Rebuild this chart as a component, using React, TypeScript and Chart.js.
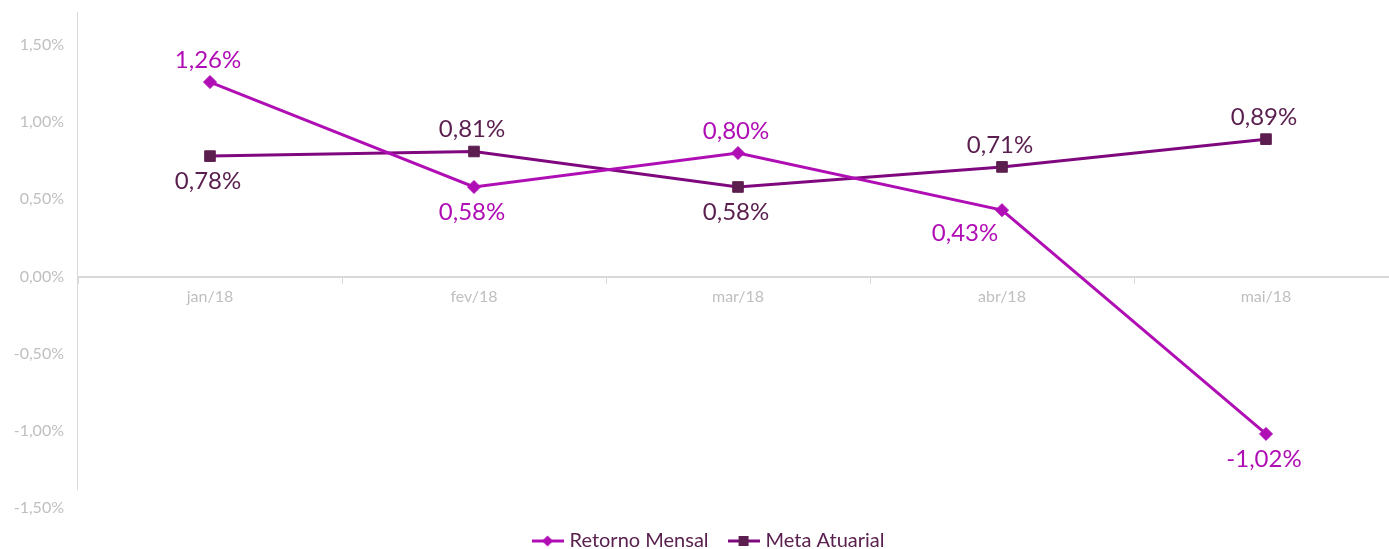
import React, { useEffect, useRef } from 'react';
import { Chart, registerables } from 'chart.js';

Chart.register(...registerables);

const categories = ['jan/18', 'fev/18', 'mar/18', 'abr/18', 'mai/18'];
const retornoMensal = [1.26, 0.58, 0.8, 0.43, -1.02];
const metaAtuarial = [0.78, 0.81, 0.58, 0.71, 0.89];
const retornoLabelPos = ['above', 'below', 'above', 'belowLeft', 'below'];
const metaLabelPos = ['below', 'above', 'below', 'above', 'above'];
const yTicks = [-1.5, -1, -0.5, 0, 0.5, 1, 1.5];

const RETORNO_COLOR = '#B00EB5';
const META_LINE = '#80087F';
const META_MARKER = '#5C1E4E';
const META_LABEL = '#5A1F4F';
const GRAY_TEXT = '#BFBFBF';
const AXIS_GRAY = '#D9D9D9';
const FONT = 'Lato, "Noto Sans", sans-serif';

const fmt = (v: number) => v.toFixed(2).replace('.', ',') + '%';

function legendIcon(lineColor: string, markerColor: string, shape: 'diamond' | 'square') {
  const c = document.createElement('canvas');
  c.width = 32;
  c.height = 14;
  const ctx = c.getContext('2d')!;
  ctx.strokeStyle = lineColor;
  ctx.lineWidth = 3;
  ctx.beginPath();
  ctx.moveTo(0, 7);
  ctx.lineTo(32, 7);
  ctx.stroke();
  ctx.fillStyle = markerColor;
  ctx.beginPath();
  if (shape === 'diamond') {
    ctx.moveTo(16, 1.5);
    ctx.lineTo(21.5, 7);
    ctx.lineTo(16, 12.5);
    ctx.lineTo(10.5, 7);
    ctx.closePath();
  } else {
    ctx.rect(11, 2, 10, 10);
  }
  ctx.fill();
  return c;
}

const yAxisLinePlugin = {
  id: 'yAxisLine',
  beforeDatasetsDraw(chart: any) {
    const { ctx, chartArea } = chart;
    ctx.save();
    ctx.strokeStyle = AXIS_GRAY;
    ctx.lineWidth = 1;
    ctx.beginPath();
    ctx.moveTo(chartArea.left - 0.5, chartArea.top - 33);
    ctx.lineTo(chartArea.left - 0.5, chartArea.bottom - 18);
    ctx.stroke();
    ctx.restore();
  },
};

const dataLabelPlugin = {
  id: 'dataLabels',
  afterDatasetsDraw(chart: any, _args: any, opts: any) {
    const ctx = chart.ctx;
    ctx.save();
    ctx.font = `24px ${FONT}`;
    ctx.textAlign = 'center';
    ctx.textBaseline = 'middle';
    chart.data.datasets.forEach((ds: any, di: number) => {
      const meta = chart.getDatasetMeta(di);
      const positions = opts.positions[di];
      ctx.fillStyle = opts.colors[di];
      meta.data.forEach((el: any, i: number) => {
        const p = positions[i];
        let dx = -2;
        let dy = 0;
        if (p === 'above') dy = -22;
        else if (p === 'below') dy = 25;
        else if (p === 'belowLeft') {
          dx = -37;
          dy = 23;
        }
        ctx.fillText(fmt(ds.data[i]), el.x + dx, el.y + dy);
      });
    });
    ctx.restore();
  },
};

export default function App() {
  const canvasRef = useRef<HTMLCanvasElement>(null);

  useEffect(() => {
    const canvas = canvasRef.current!;
    const icons = [
      legendIcon(RETORNO_COLOR, RETORNO_COLOR, 'diamond'),
      legendIcon(META_LINE, META_MARKER, 'square'),
    ];
    const chart = new Chart(canvas, {
      type: 'line',
      data: {
        labels: categories,
        datasets: [
          {
            label: 'Retorno Mensal',
            data: retornoMensal,
            borderColor: RETORNO_COLOR,
            backgroundColor: RETORNO_COLOR,
            borderWidth: 3,
            pointStyle: 'rectRot',
            pointRadius: 6.5,
            pointBorderWidth: 1,
            pointBackgroundColor: RETORNO_COLOR,
            pointBorderColor: RETORNO_COLOR,
            tension: 0,
            fill: false,
          },
          {
            label: 'Meta Atuarial',
            data: metaAtuarial,
            borderColor: META_LINE,
            backgroundColor: META_MARKER,
            borderWidth: 3,
            pointStyle: 'rect',
            pointRadius: 7.5,
            pointBorderWidth: 1,
            pointBackgroundColor: META_MARKER,
            pointBorderColor: META_MARKER,
            tension: 0,
            fill: false,
          },
        ],
      },
      options: {
        responsive: false,
        animation: false,
        devicePixelRatio: 1,
        layout: { padding: { top: 45, left: 0, right: 0, bottom: -12 } },
        scales: {
          x: {
            type: 'category',
            position: { y: 0 },
            offset: true,
            grid: {
              offset: true,
              drawOnChartArea: false,
              color: AXIS_GRAY,
              tickLength: 6,
              lineWidth: 1,
            },
            border: { color: AXIS_GRAY, width: 2 },
            ticks: {
              color: GRAY_TEXT,
              font: { family: FONT, size: 16 },
              padding: 5,
              maxRotation: 0,
            },
            afterFit: (s: any) => {
              s.height = 0;
            },
          },
          y: {
            min: -1.5,
            max: 1.5,
            afterBuildTicks: (s: any) => {
              s.ticks = yTicks.map((v) => ({ value: v }));
            },
            ticks: {
              color: GRAY_TEXT,
              font: { family: FONT, size: 16 },
              padding: 6,
              callback: (v: any) => fmt(Number(v)),
            },
            grid: { display: false },
            border: { display: false },
            afterFit: (s: any) => {
              s.width = 78;
            },
          },
          yRight: {
            type: 'linear',
            position: 'right',
            display: true,
            grid: { display: false },
            border: { display: false },
            ticks: { display: false },
            afterFit: (s: any) => {
              s.width = 22;
            },
          },
        },
        plugins: {
          tooltip: { enabled: false },
          legend: {
            position: 'bottom',
            labels: {
              usePointStyle: true,
              pointStyleWidth: 24,
              padding: 23,
              color: '#5A2150',
              font: { family: FONT, size: 20 },
              generateLabels: (ch: any) => {
                const items = (Chart.defaults.plugins.legend.labels as any).generateLabels(ch);
                return items.map((it: any, i: number) => ({
                  ...it,
                  pointStyle: icons[i],
                  fontColor: '#5A2150',
                }));
              },
            },
          },
          dataLabels: {
            positions: [retornoLabelPos, metaLabelPos],
            colors: [RETORNO_COLOR, META_LABEL],
          },
        } as any,
      },
      plugins: [yAxisLinePlugin, dataLabelPlugin],
    });
    return () => chart.destroy();
  }, []);

  return (
    <div
      style={{
        position: 'fixed',
        left: 0,
        top: 0,
        width: 1389,
        height: 549,
        overflow: 'hidden',
        background: '#fff',
      }}
    >
      <canvas ref={canvasRef} width={1420} height={549} style={{ display: 'block' }} />
    </div>
  );
}
